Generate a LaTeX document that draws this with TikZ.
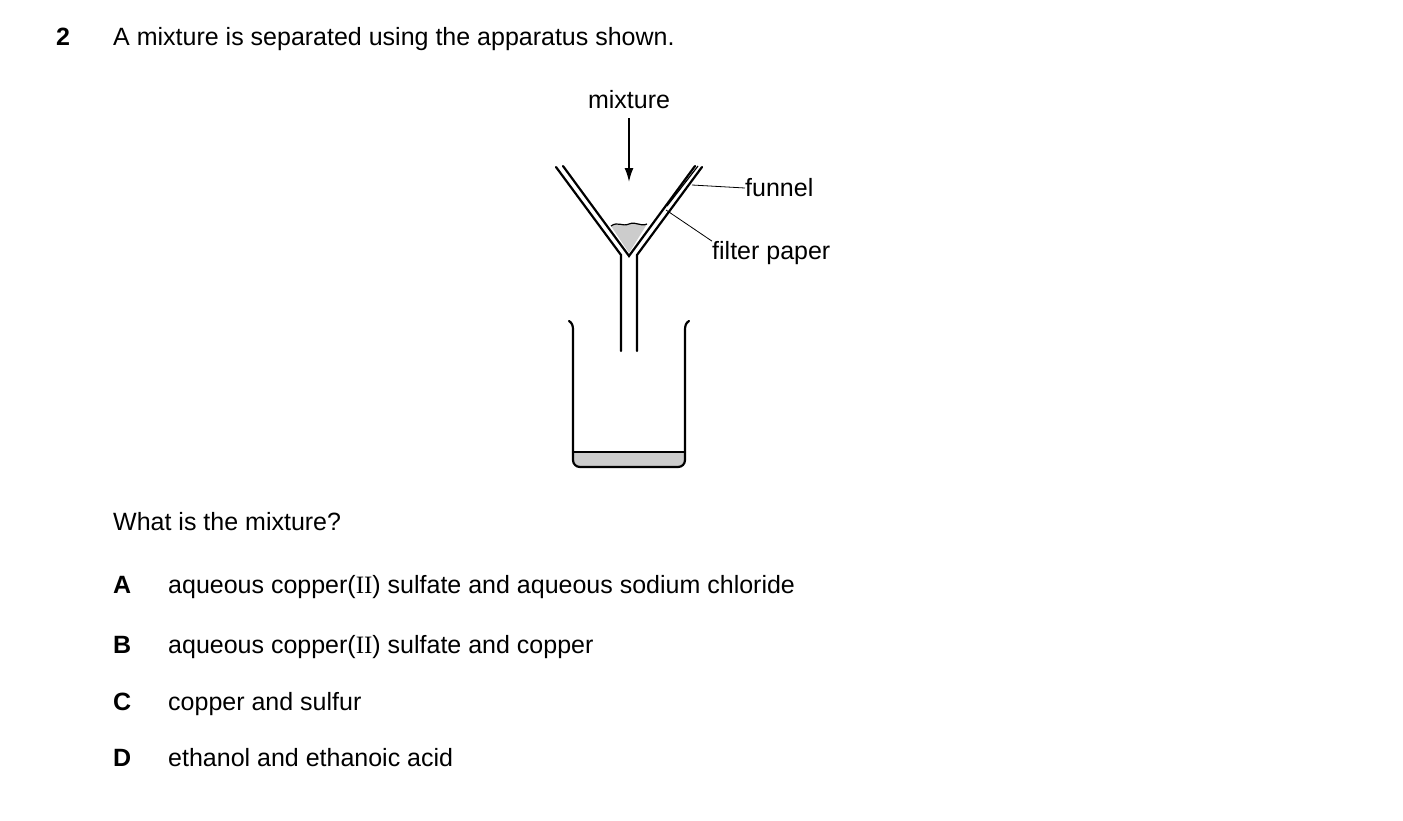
\documentclass[tikz,border=0pt]{standalone}
\usetikzlibrary{arrows.meta}
\usepackage{fontspec}
\setmainfont{Liberation Sans}
\newfontfamily\serifii{Liberation Serif}
\begin{document}
\begin{tikzpicture}[x=1pt,y=-1pt,
  txt/.style={font=\fontsize{25}{30}\selectfont, inner sep=0pt},
  wall/.style={line width=2.2pt, line cap=round},
  lead/.style={line width=0.8pt}]
\useasboundingbox (0,0) rectangle (1403,820);
\newcommand{\romII}{{\serifii II}}
% texts
\node[txt,anchor=base west,font=\fontsize{25}{30}\selectfont\bfseries] (q) at (56,45) {2};
\node[txt,anchor=base west] (stem) at (113,45) {A mixture is separated using the apparatus shown.};
\node[txt,anchor=base] (mix) at (629,108) {mixture};
\node[txt,anchor=west] (fun) at (745,188) {funnel};
\node[txt,anchor=west] (fp) at (712,253) {filter paper};
\node[txt,anchor=base west] (qq) at (113,530) {What is the mixture?};
\node[txt,anchor=base west,font=\fontsize{25}{30}\selectfont\bfseries] (la) at (113,593) {A};
\node[txt,anchor=base west] (ta) at (168,593) {aqueous copper(\romII) sulfate and aqueous sodium chloride};
\node[txt,anchor=base west,font=\fontsize{25}{30}\selectfont\bfseries] (lb) at (113,653) {B};
\node[txt,anchor=base west] (tb) at (168,653) {aqueous copper(\romII) sulfate and copper};
\node[txt,anchor=base west,font=\fontsize{25}{30}\selectfont\bfseries] (lc) at (113,710) {C};
\node[txt,anchor=base west] (tc) at (168,710) {copper and sulfur};
\node[txt,anchor=base west,font=\fontsize{25}{30}\selectfont\bfseries] (ld) at (113,766) {D};
\node[txt,anchor=base west] (td) at (168,766) {ethanol and ethanoic acid};
% arrow
\coordinate (ar) at (629,182);
\draw[line width=1.6pt,-{Latex[length=14pt,width=9pt]}] (629,118) -- (ar);
% beaker liquid
\fill[gray!40] (573,452) -- (685,452) -- (685,461) to[out=90,in=0] (678,467) -- (580,467) to[out=180,in=90] (573,461) -- cycle;
\draw[wall] (573,452) -- (685,452);
\draw[wall] (569,321) to[out=-30,in=90] (573,330) -- (573,460) to[out=-90,in=180] (580,467) -- (678,467) to[out=0,in=-90] (685,460) -- (685,330) to[out=90,in=210] (689,321);
% funnel liquid
\fill[gray!40] (611,226) .. controls (618,221) and (622,227) .. (629,224) .. controls (636,221) and (640,227) .. (647,224) -- (629,253) -- cycle;
\draw[line width=1.2pt] (611,226) .. controls (618,221) and (622,227) .. (629,224) .. controls (636,221) and (640,227) .. (647,224);
% funnel
\draw[wall] (556,167) -- (621,255) -- (621,351);
\draw[wall] (637,351) -- (637,255) -- (702,167);
\draw[wall] (563,166) -- (629,256) -- (695,166);
\draw[line width=1.2pt] (667,206) -- (698,166);
% leaders
\draw[lead] (692,185) -- (fun.west);
\draw[lead] (666,210) -- (fp.north west);
\end{tikzpicture}
\end{document}
